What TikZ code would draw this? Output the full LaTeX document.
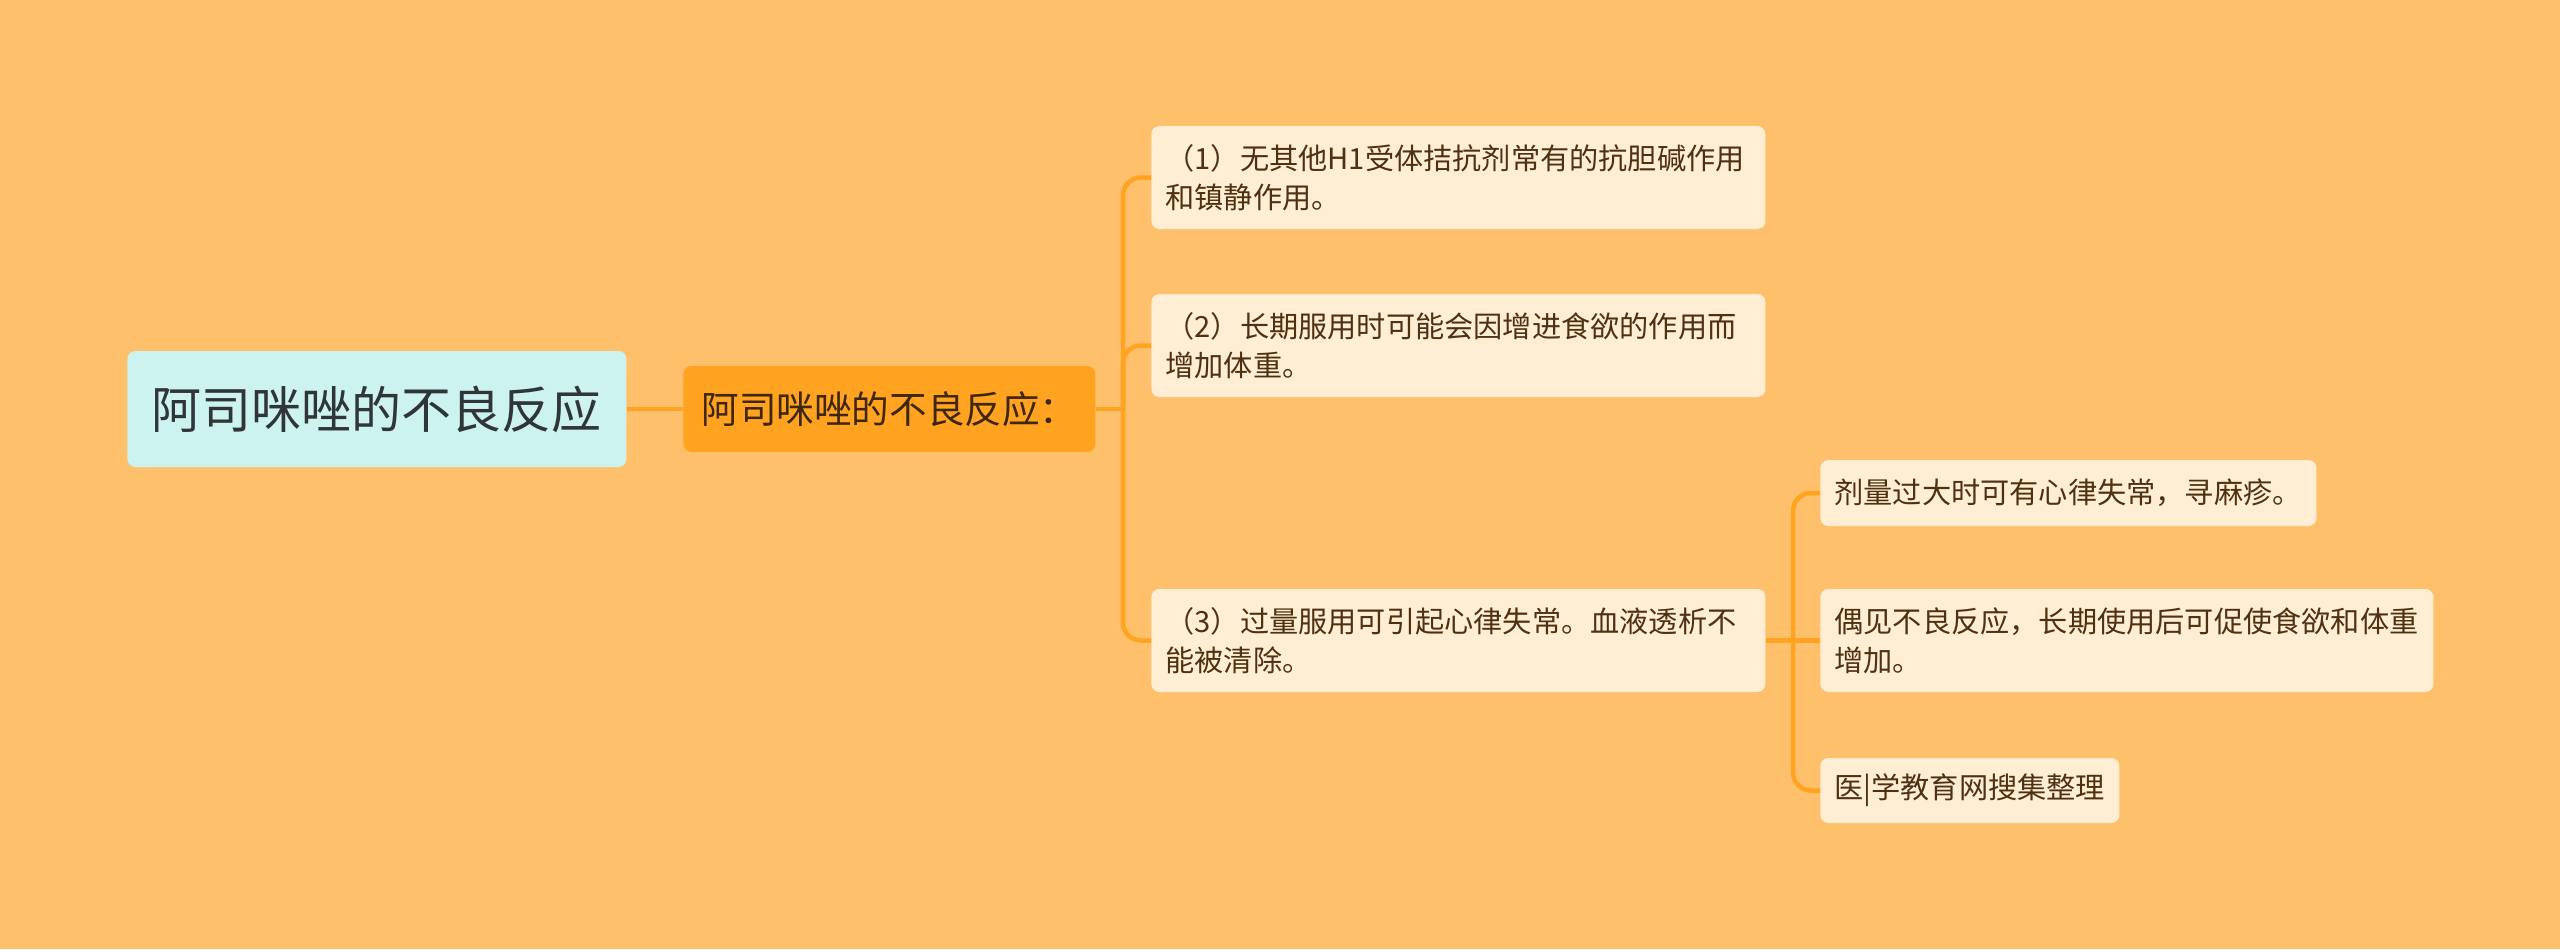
\documentclass[tikz,border=0pt]{standalone}
\usepackage{fontspec}
\newfontfamily\cjk{Noto Sans CJK SC}
\usetikzlibrary{positioning}

\definecolor{bgcol}{RGB}{255,192,107}
\definecolor{linkcol}{RGB}{255,163,33}
\definecolor{rootcol}{RGB}{204,243,239}
\definecolor{leafcol}{RGB}{255,237,212}
\definecolor{leaftext}{RGB}{77,49,17}
\definecolor{roottext}{RGB}{48,53,56}

\tikzset{
  box/.style={anchor=west, rounded corners=4pt, inner xsep=7pt, inner ysep=0pt, align=left},
  rootbox/.style={box, fill=rootcol, text=roottext, align=center,
    font=\cjk\fontsize{25}{30}\selectfont},
  mainbox/.style={box, fill=linkcol, text=leaftext!80!black, align=center,
    font=\cjk\fontsize{18.8}{22}\selectfont},
  leafbox/.style={box, fill=leafcol, text=leaftext,
    font=\cjk\fontsize{14.6}{19.5}\selectfont},
  link/.style={draw=linkcol, line width=2.25pt, rounded corners=9pt}
}

\begin{document}
\begin{tikzpicture}[x=0.5pt,y=-0.5pt]
\fill[bgcol] (0,0) rectangle (2560,949);
\useasboundingbox (0,0) rectangle (2560,949);
%----root and first branch----------------------
\node[rootbox, minimum width=499*0.5pt, minimum height=116*0.5pt] (root) at (127,409) {阿司咪唑的不良反应};
\node[mainbox, minimum width=412*0.5pt, minimum height=86*0.5pt] (main) at (683,409) {阿司咪唑的不良反应：};
%----leaves-------------------------------------
\node[leafbox, text width=586*0.5pt, minimum height=103*0.5pt] (noeff) at (1151,177.5)
  {（1）无其他H1受体拮抗剂常有的抗胆碱作用\\和镇静作用。};
\node[leafbox, text width=586*0.5pt, minimum height=103*0.5pt] (weight) at (1151,345.5)
  {（2）长期服用时可能会因增进食欲的作用而\\增加体重。};
\node[leafbox, text width=586*0.5pt, minimum height=103*0.5pt] (overdose) at (1151,640.5)
  {（3）过量服用可引起心律失常。血液透析不\\能被清除。};
%----sub leaves---------------------------------
\node[leafbox, text width=468*0.5pt, minimum height=66*0.5pt] (arrhy) at (1820,493)
  {剂量过大时可有心律失常，寻麻疹。};
\node[leafbox, text width=585*0.5pt, minimum height=103*0.5pt] (rare) at (1820,640.5)
  {偶见不良反应，长期使用后可促使食欲和体重\\增加。};
\node[leafbox, text width=271*0.5pt, minimum height=65*0.5pt] (src) at (1820,790.5)
  {医|学教育网搜集整理};
%----connectors---------------------------------
\coordinate (j1) at (1123,409);
\coordinate (j2) at (1793,640.5);
\draw[link] (root.east) -- (main.west);
\draw[link] (main.east) -- (j1);
\draw[link] (j1) |- (noeff.west);
\draw[link] (j1) |- (weight.west);
\draw[link] (j1) |- (overdose.west);
\draw[link] (overdose.east) -- (j2);
\draw[link] (j2) |- (arrhy.west);
\draw[link] (j2) -- (rare.west);
\draw[link] (j2) |- (src.west);
\end{tikzpicture}
\end{document}
